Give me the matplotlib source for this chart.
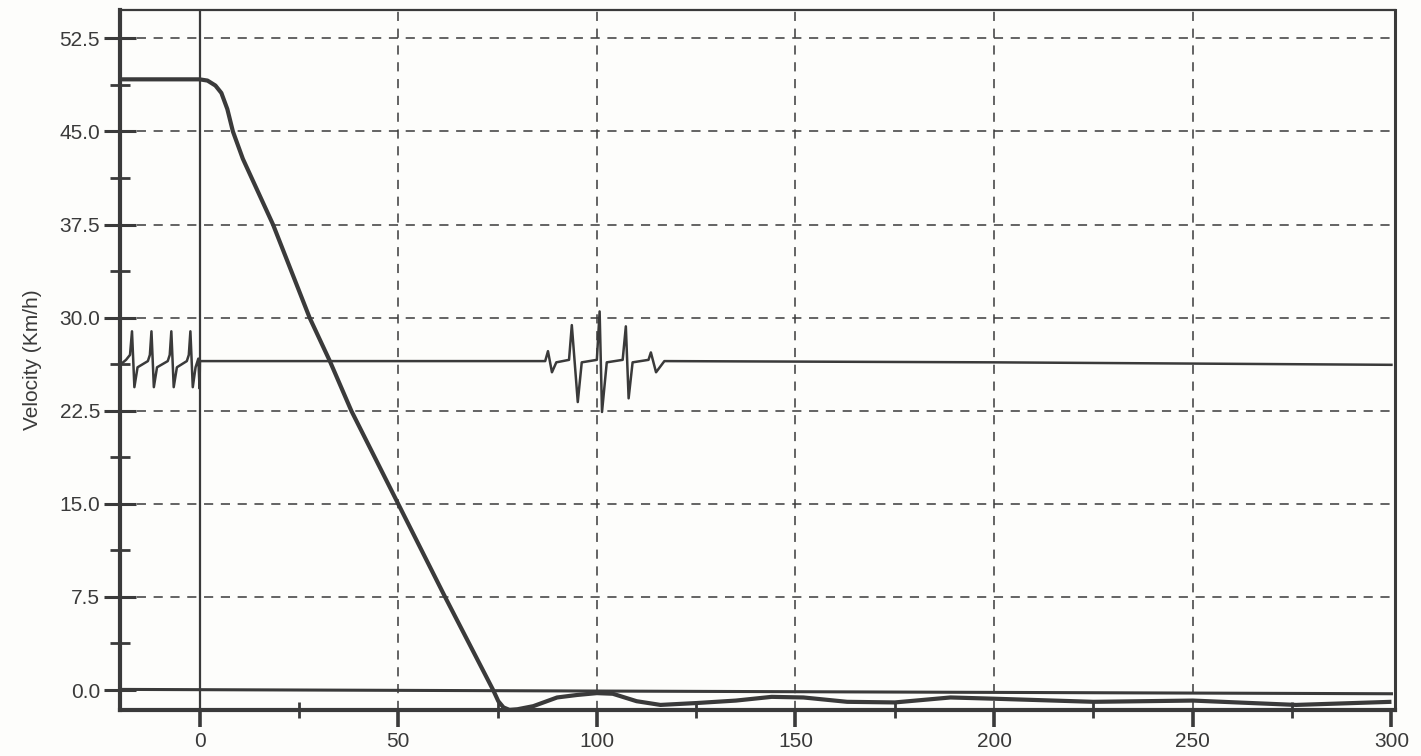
import matplotlib
matplotlib.use("Agg")
import matplotlib.pyplot as plt

# ---- data ----
# braking velocity curve (thick line)
vel_x = [-20, 0, 2, 4, 5.5, 7, 8.4, 10.9, 18.5, 27.7, 32.8, 38.2, 50.0, 61.8, 73.9,
         75.2, 76.5, 78, 80, 84, 90, 95, 100, 104, 110, 116, 125, 135, 144,
         152, 163, 175, 189, 200, 225, 250, 276, 300]
vel_y = [49.2, 49.2, 49.1, 48.7, 48.1, 46.8, 45.0, 42.8, 37.5, 30.0, 26.5, 22.5, 15.0, 7.5, 0.0,
         -0.9, -1.4, -1.6, -1.55, -1.3, -0.6, -0.4, -0.25, -0.3, -0.9, -1.2, -1.05, -0.85, -0.55,
         -0.6, -0.95, -1.0, -0.6, -0.7, -0.95, -0.85, -1.2, -0.95]

# second trace with spikes (thin line)
sig_x = [-20, -18.5, -17.5, -17.0, -16.4, -15.6, -13, -12.5, -12.1, -11.5, -10.7,
         -8, -7.5, -7.1, -6.5, -5.7, -3.2, -2.7, -2.3, -1.7, -1.0, -0.3, 0.0, 0.1,
         87, 87.7, 88.7, 89.8, 93, 93.7, 95.2, 96.2, 100, 100.7, 101.3, 102.5,
         106.5, 107.3, 108.0, 109.0, 113, 113.6, 114.9, 117, 200, 300]
sig_y = [26.2, 26.6, 27.0, 28.9, 24.4, 26.0, 26.5, 27.0, 28.9, 24.4, 26.0,
         26.5, 27.0, 28.9, 24.4, 26.0, 26.5, 27.0, 28.9, 24.4, 26.0, 26.7, 24.3, 26.5,
         26.5, 27.3, 25.6, 26.4, 26.6, 29.4, 23.2, 26.4, 26.6, 30.5, 22.4, 26.4,
         26.6, 29.3, 23.5, 26.4, 26.6, 27.2, 25.6, 26.5, 26.4, 26.2]

# zero reference line
zero_x = [-20, 300]
zero_y = [0.05, -0.3]

x_major = [0, 50, 100, 150, 200, 250, 300]
x_minor = [25, 75, 125, 175, 225, 275]
y_major = [0.0, 7.5, 15.0, 22.5, 30.0, 37.5, 45.0, 52.5]
y_minor = [3.75, 11.25, 18.75, 26.25, 33.75, 41.25, 48.75]

ink = "#3a3a3a"
plt.rcParams['font.family'] = ['Liberation Sans', 'DejaVu Sans']

fig = plt.figure(figsize=(14.21, 7.56), dpi=100)
fig.patch.set_facecolor("#fdfdfb")
ax = fig.add_axes([0.0845, 0.061, 0.8975, 0.926])
ax.set_facecolor("#fdfdfb")

ax.set_xlim(-20, 301)
ax.set_ylim(-1.6, 54.8)

# dashed grid
for gx in x_major[1:-1]:
    ax.axvline(gx, color=ink, lw=1.1, ls=(0, (6, 5)), zorder=1)
for gy in y_major[1:]:
    ax.axhline(gy, color=ink, lw=1.1, ls=(0, (6, 5)), zorder=1)

ax.axvline(0, color=ink, lw=1.6, zorder=2)
ax.plot(zero_x, zero_y, color=ink, lw=2.2, zorder=2)
ax.plot(sig_x, sig_y, color=ink, lw=1.8, zorder=3)
ax.plot(vel_x, vel_y, color=ink, lw=3.0, zorder=4, solid_capstyle='butt')

ax.set_xticks(x_major)
ax.set_xticks(x_minor, minor=True)
ax.set_yticks(y_major)
ax.set_yticks(y_minor, minor=True)
ax.set_yticklabels(["%.1f" % v for v in y_major])
ax.set_xticklabels([str(v) for v in x_major])

ax.tick_params(axis='y', which='major', direction='inout', length=23, width=2.2,
               color=ink, labelcolor=ink, labelsize=15, pad=3)
ax.tick_params(axis='y', which='minor', direction='inout', length=14, width=2.0, color=ink)
ax.tick_params(axis='x', which='major', direction='out', length=12, width=2.6,
               color=ink, labelcolor=ink, labelsize=15, pad=4)
ax.tick_params(axis='x', which='minor', direction='inout', length=12, width=2.0, color=ink)

ax.spines['left'].set_linewidth(3.0)
ax.spines['bottom'].set_linewidth(3.0)
ax.spines['top'].set_linewidth(1.6)
ax.spines['right'].set_linewidth(2.2)
for s in ax.spines.values():
    s.set_color(ink)

ax.set_ylabel("Velocity (Km/h)", fontsize=15, color=ink, labelpad=12)

fig.savefig("out.png", dpi=100, facecolor=fig.get_facecolor())
